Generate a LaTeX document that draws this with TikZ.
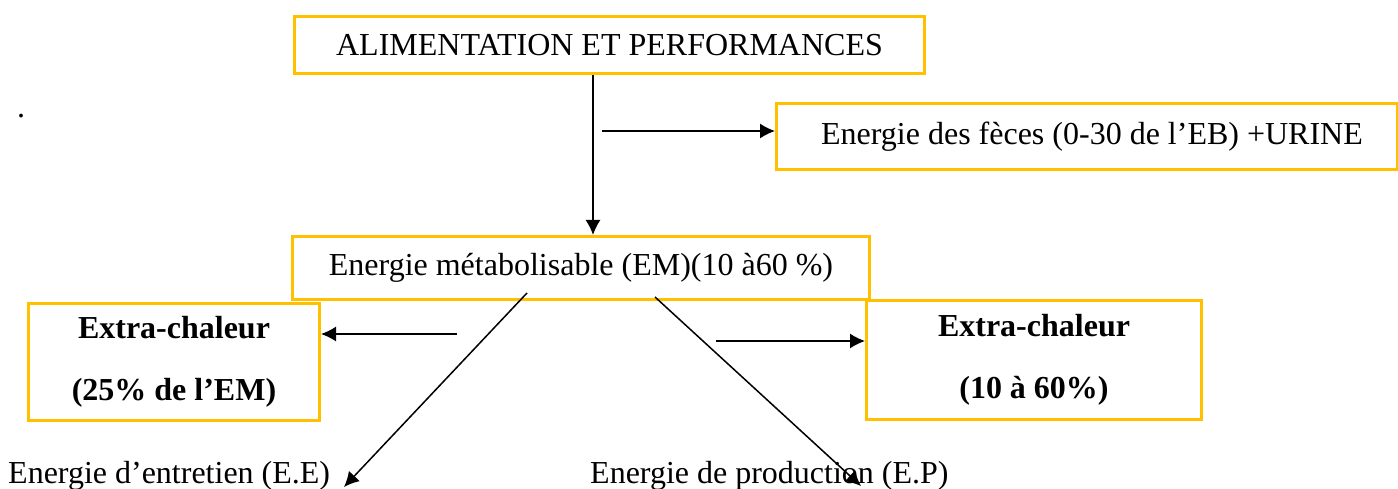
\documentclass[tikz,border=0pt]{standalone}
\usepackage{fontspec}
\setmainfont{Liberation Serif}
\usetikzlibrary{arrows.meta}
\definecolor{boxgold}{HTML}{FFC000}
\tikzset{
  x=1pt, y=-1pt,
  goldbox/.style={draw=boxgold, line width=3pt, anchor=north west, inner sep=0pt,
    font=\fontsize{32}{62}\selectfont, align=center},
  plain/.style={inner sep=0pt, font=\fontsize{32}{38}\selectfont, anchor=base west},
  arr/.style={line width=1.5pt, -{Latex[length=15pt,width=15pt]}},
}
\begin{document}
\begin{tikzpicture}
\useasboundingbox (0,0) rectangle (1398,489);
% boxes
\node[goldbox, minimum width=630pt, minimum height=57pt] (top) at (293,15) {ALIMENTATION ET PERFORMANCES};
\node[goldbox, minimum width=621pt, minimum height=66pt] (feces) at (775,102) {\hspace{10pt}Energie des fèces (0-30 de l’EB) +URINE};
\node[goldbox, minimum width=577pt, minimum height=63pt] (em) at (291,235) {Energie métabolisable (EM)(10 à60 \%)};
\node[goldbox, minimum width=291pt, minimum height=117pt] (exl) at (27,302) {\bfseries Extra-chaleur\\\bfseries (25\% de l’EM)};
\node[goldbox, minimum width=335pt, minimum height=119pt] (exr) at (865,299) {\bfseries Extra-chaleur\\\bfseries (10 à 60\%)};
% dot
\node[plain] (dot) at (17,118) {.};
% bottom texts
\node[plain] (ee) at (8,483) {Energie d’entretien (E.E)};
\node[plain] (ep) at (590,483) {Energie de production (E.P)};
% free ends
\coordinate (fs) at (602,131);
\coordinate (ls) at (457,334);
\coordinate (rs) at (716,341);
\coordinate (d1s) at (527,293);
\coordinate (d1e) at (344,487);
\coordinate (d2s) at (655,297);
\coordinate (d2e) at (861,486);
% connectors
\draw[arr] (top.south -| 593,0) -- (em.north -| 593,0);
\draw[arr] (fs) -- (feces.west |- fs);
\draw[arr] (ls) -- (exl.east |- ls);
\draw[arr] (rs) -- (exr.west |- rs);
\draw[arr] (d1s) -- (d1e);
\draw[arr] (d2s) -- (d2e);
\end{tikzpicture}
\end{document}
